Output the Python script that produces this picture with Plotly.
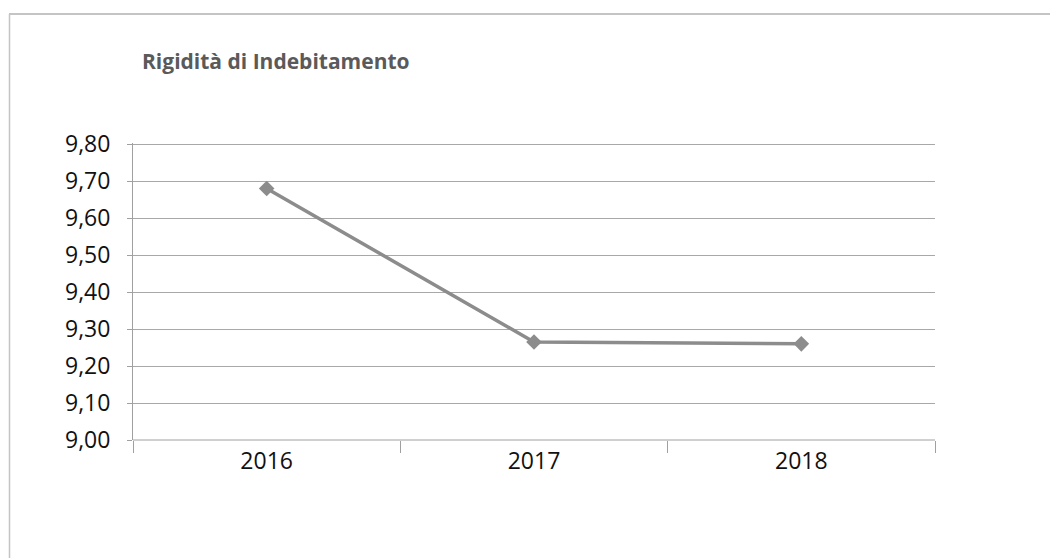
import plotly.graph_objects as go

years = ["2016", "2017", "2018"]
values = [9.68, 9.265, 9.26]
y_ticks = [9.0, 9.1, 9.2, 9.3, 9.4, 9.5, 9.6, 9.7, 9.8]
y_labels = ["9,00", "9,10", "9,20", "9,30", "9,40", "9,50", "9,60", "9,70", "9,80"]
title_text = "Rigidità di Indebitamento"

OFF = 8  # page body margin
W, H = 1058, 558
L, R, T, B = 133 - OFF, 935 - OFF, 143 - OFF, 440 - OFF

def px(x):
    return (x - OFF - L) / (R - L)

def py(y):
    return (B - (y - OFF)) / (B - T)

fig = go.Figure()
fig.add_trace(go.Scatter(
    x=years, y=values, mode="lines+markers",
    line=dict(color="#8c8c8c", width=3.5),
    marker=dict(symbol="diamond", size=12, color="#8c8c8c"),
    showlegend=False, hoverinfo="skip",
))

fig.update_layout(
    width=W, height=H,
    margin=dict(l=L, r=W - R, t=T, b=H - B, pad=0),
    paper_bgcolor="white", plot_bgcolor="white",
    font=dict(family="Open Sans, Arial, sans-serif", color="#111111"),
    title=dict(
        text="<b>" + title_text + "</b>",
        x=(142 - OFF) / W, xanchor="left", y=1 - (62 - OFF) / H, yanchor="middle",
        font=dict(size=21, color="#5a5a5a", family="Open Sans, Arial, sans-serif"),
    ),
    xaxis=dict(
        type="category", range=[-0.5, 2.5],
        showgrid=False, showline=False, zeroline=False,
        tickson="boundaries", ticks="outside", ticklen=12, tickcolor="#a0a0a0", tickwidth=1,
        tickfont=dict(size=23, color="#111111"), ticklabelstandoff=5,
    ),
    yaxis=dict(
        range=[9.0, 9.803], tickvals=y_ticks, ticktext=y_labels,
        showgrid=True, gridcolor="#a8a8a8", gridwidth=1,
        showline=True, linecolor="#a0a0a0", linewidth=1, zeroline=False,
        ticks="outside", ticklen=5, tickcolor="#a0a0a0",
        tickfont=dict(size=23, color="#111111"), ticklabelstandoff=12,
    ),
    shapes=[
        dict(type="line", xref="paper", yref="paper", x0=0, x1=1, y0=0, y1=0,
             line=dict(color="#a0a0a0", width=1)),
        dict(type="line", xref="paper", yref="paper", x0=px(9), x1=px(1058), y0=py(14), y1=py(14),
             line=dict(color="#b0b0b0", width=1.5)),
        dict(type="line", xref="paper", yref="paper", x0=px(9.5), x1=px(9.5), y0=py(14), y1=py(558),
             line=dict(color="#c4c4c4", width=1.5)),
    ],
)

fig.write_html("out.html")
